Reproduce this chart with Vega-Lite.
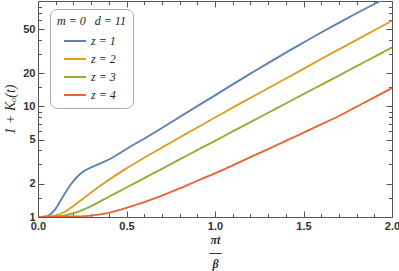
{
  "$schema": "https://vega.github.io/schema/vega-lite/v6.json",
  "width": 354,
  "height": 216,
  "autosize": "none",
  "padding": {"left": 38, "top": 1, "right": 7, "bottom": 54},
  "background": "white",
  "config": {
    "view": {"stroke": null},
    "axis": {
      "grid": false,
      "domainColor": "#555",
      "tickColor": "#555",
      "labelFont": "Liberation Sans",
      "labelFontWeight": "bold",
      "labelFontSize": 11,
      "labelColor": "#333",
      "labelOverlap": false,
      "labelFlush": false
    }
  },
  "data": {
    "values": [
      {"x": 0, "y": 1, "z": 1}, {"x": 0.02, "y": 1.0, "z": 1}, {"x": 0.04, "y": 1.01, "z": 1}, {"x": 0.065, "y": 1.042, "z": 1},
      {"x": 0.0935, "y": 1.156, "z": 1}, {"x": 0.1405, "y": 1.524, "z": 1}, {"x": 0.188, "y": 2.0, "z": 1}, {"x": 0.235, "y": 2.42, "z": 1},
      {"x": 0.26, "y": 2.6, "z": 1}, {"x": 0.29, "y": 2.76, "z": 1}, {"x": 0.33, "y": 2.94, "z": 1}, {"x": 0.38, "y": 3.2, "z": 1},
      {"x": 0.424, "y": 3.47, "z": 1}, {"x": 0.518, "y": 4.3, "z": 1},
      {"x": 0.6, "y": 5.11, "z": 1}, {"x": 0.7, "y": 6.38, "z": 1}, {"x": 0.8, "y": 8.02, "z": 1}, {"x": 0.9, "y": 10.07, "z": 1},
      {"x": 1.0, "y": 12.6, "z": 1}, {"x": 1.1, "y": 15.85, "z": 1}, {"x": 1.2, "y": 19.8, "z": 1}, {"x": 1.3, "y": 24.7, "z": 1},
      {"x": 1.4, "y": 30.7, "z": 1}, {"x": 1.5, "y": 37.9, "z": 1}, {"x": 1.6, "y": 46.7, "z": 1}, {"x": 1.7, "y": 57.1, "z": 1},
      {"x": 1.8, "y": 69.7, "z": 1}, {"x": 1.9, "y": 84.5, "z": 1}, {"x": 1.95, "y": 92.9, "z": 1},

      {"x": 0, "y": 1, "z": 2}, {"x": 0.05, "y": 1.005, "z": 2}, {"x": 0.1, "y": 1.035, "z": 2}, {"x": 0.15, "y": 1.109, "z": 2},
      {"x": 0.2, "y": 1.259, "z": 2}, {"x": 0.25, "y": 1.445, "z": 2}, {"x": 0.3, "y": 1.667, "z": 2}, {"x": 0.35, "y": 1.905, "z": 2},
      {"x": 0.4, "y": 2.168, "z": 2}, {"x": 0.5, "y": 2.754, "z": 2}, {"x": 0.6, "y": 3.436, "z": 2}, {"x": 0.7, "y": 4.246, "z": 2},
      {"x": 0.8, "y": 5.236, "z": 2}, {"x": 0.9, "y": 6.457, "z": 2}, {"x": 1.0, "y": 7.943, "z": 2}, {"x": 1.1, "y": 9.75, "z": 2},
      {"x": 1.2, "y": 11.94, "z": 2}, {"x": 1.3, "y": 14.62, "z": 2}, {"x": 1.4, "y": 17.9, "z": 2}, {"x": 1.5, "y": 21.9, "z": 2},
      {"x": 1.6, "y": 26.9, "z": 2}, {"x": 1.7, "y": 32.8, "z": 2}, {"x": 1.8, "y": 40.1, "z": 2}, {"x": 1.9, "y": 48.9, "z": 2},
      {"x": 2.0, "y": 59.6, "z": 2},

      {"x": 0, "y": 1, "z": 3}, {"x": 0.05, "y": 1.001, "z": 3}, {"x": 0.1, "y": 1.009, "z": 3}, {"x": 0.15, "y": 1.033, "z": 3},
      {"x": 0.2, "y": 1.081, "z": 3}, {"x": 0.25, "y": 1.153, "z": 3}, {"x": 0.3, "y": 1.253, "z": 3}, {"x": 0.35, "y": 1.377, "z": 3},
      {"x": 0.4, "y": 1.524, "z": 3}, {"x": 0.5, "y": 1.849, "z": 3}, {"x": 0.6, "y": 2.249, "z": 3}, {"x": 0.7, "y": 2.729, "z": 3},
      {"x": 0.8, "y": 3.319, "z": 3}, {"x": 0.9, "y": 4.027, "z": 3}, {"x": 1.0, "y": 4.887, "z": 3}, {"x": 1.1, "y": 5.943, "z": 3},
      {"x": 1.2, "y": 7.211, "z": 3}, {"x": 1.3, "y": 8.77, "z": 3}, {"x": 1.4, "y": 10.64, "z": 3}, {"x": 1.5, "y": 12.94, "z": 3},
      {"x": 1.6, "y": 15.7, "z": 3}, {"x": 1.7, "y": 19.05, "z": 3}, {"x": 1.8, "y": 23.17, "z": 3}, {"x": 1.9, "y": 28.12, "z": 3},
      {"x": 2.0, "y": 34.2, "z": 3},

      {"x": 0, "y": 1, "z": 4}, {"x": 0.1, "y": 1.001, "z": 4}, {"x": 0.2, "y": 1.009, "z": 4}, {"x": 0.3, "y": 1.03, "z": 4},
      {"x": 0.4, "y": 1.091, "z": 4}, {"x": 0.5, "y": 1.21, "z": 4}, {"x": 0.6, "y": 1.365, "z": 4}, {"x": 0.7, "y": 1.56, "z": 4},
      {"x": 0.8, "y": 1.811, "z": 4}, {"x": 0.9, "y": 2.128, "z": 4}, {"x": 1.0, "y": 2.483, "z": 4}, {"x": 1.1, "y": 2.938, "z": 4},
      {"x": 1.2, "y": 3.475, "z": 4}, {"x": 1.3, "y": 4.11, "z": 4}, {"x": 1.4, "y": 4.875, "z": 4}, {"x": 1.5, "y": 5.794, "z": 4},
      {"x": 1.6, "y": 6.887, "z": 4}, {"x": 1.7, "y": 8.2, "z": 4}, {"x": 1.8, "y": 9.95, "z": 4}, {"x": 1.9, "y": 12.08, "z": 4},
      {"x": 2.0, "y": 14.69, "z": 4}
    ]
  },
  "layer": [
    {
      "mark": {"type": "line", "strokeWidth": 1.9, "clip": true, "interpolate": "monotone"},
      "encoding": {
        "x": {
          "field": "x", "type": "quantitative",
          "scale": {"domain": [0, 2], "nice": false, "zero": false},
          "axis": {
            "orient": "bottom",
            "values": [0, 0.1, 0.2, 0.3, 0.4, 0.5, 0.6, 0.7, 0.8, 0.9, 1, 1.1, 1.2, 1.3, 1.4, 1.5, 1.6, 1.7, 1.8, 1.9, 2],
            "labelExpr": "abs(datum.value*2 - round(datum.value*2)) < 1e-6 ? format(datum.value, '.1f') : ''",
            "tickSize": {"condition": {"test": "abs(datum.value*2 - round(datum.value*2)) < 1e-6", "value": -6}, "value": -3.5},
            "labelPadding": 9,
            "title": ["πt", "—", "β"],
            "titleFont": "Liberation Serif",
            "titleFontStyle": "italic",
            "titleFontWeight": "bold",
            "titleFontSize": 12,
            "titleLineHeight": 12,
            "titleColor": "#333",
            "titlePadding": 1
          }
        },
        "y": {
          "field": "y", "type": "quantitative",
          "scale": {"type": "log", "domain": [1, 90], "nice": false},
          "axis": {
            "orient": "left",
            "values": [1, 1.5, 2, 3, 4, 5, 6, 7, 8, 9, 10, 15, 20, 30, 40, 50, 60, 70, 80],
            "labelExpr": "indexof([1,2,5,10,20,50], datum.value) >= 0 ? '' + datum.value : ''",
            "tickSize": {"condition": {"test": "indexof([1,2,5,10,20,50], datum.value) >= 0", "value": -6}, "value": -3.5},
            "labelPadding": 9,
            "title": "1 + Kₒ(t)",
            "titleFont": "Liberation Serif",
            "titleFontStyle": "italic",
            "titleFontWeight": "normal",
            "titleFontSize": 14,
            "titleColor": "#333",
            "titlePadding": 5
          }
        },
        "color": {
          "field": "z", "type": "nominal",
          "scale": {"domain": [1, 2, 3, 4], "range": ["#5E81B5", "#E19C24", "#8FB032", "#EB6235"]},
          "legend": {
            "orient": "none",
            "legendX": 12,
            "legendY": 8,
            "title": "m = 0\u00a0\u00a0\u00a0d = 11",
            "titleFont": "Liberation Serif",
            "titleFontStyle": "italic",
            "titleFontWeight": "normal",
            "titleFontSize": 12,
            "titleColor": "#222",
            "titlePadding": 1,
            "labelExpr": "'z = ' + datum.label",
            "labelFont": "Liberation Serif",
            "labelFontStyle": "italic",
            "labelFontSize": 12,
            "labelColor": "#222",
            "labelOffset": 4,
            "symbolType": "stroke",
            "symbolSize": 484,
            "symbolStrokeWidth": 2,
            "symbolOffset": 6,
            "rowPadding": -4,
            "padding": 7,
            "fillColor": "white",
            "strokeColor": "#aaa",
            "cornerRadius": 7
          }
        }
      }
    },
    {
      "mark": {"type": "line", "opacity": 0},
      "encoding": {
        "x": {
          "field": "x", "type": "quantitative",
          "scale": {"domain": [0, 2], "nice": false, "zero": false},
          "axis": {
            "orient": "top",
            "values": [0, 0.1, 0.2, 0.3, 0.4, 0.5, 0.6, 0.7, 0.8, 0.9, 1, 1.1, 1.2, 1.3, 1.4, 1.5, 1.6, 1.7, 1.8, 1.9, 2],
            "labels": false,
            "title": null,
            "tickSize": {"condition": {"test": "abs(datum.value*2 - round(datum.value*2)) < 1e-6", "value": -6}, "value": -3.5}
          }
        },
        "y": {
          "field": "y", "type": "quantitative",
          "scale": {"type": "log", "domain": [1, 90], "nice": false},
          "axis": {
            "orient": "right",
            "values": [1, 1.5, 2, 3, 4, 5, 6, 7, 8, 9, 10, 15, 20, 30, 40, 50, 60, 70, 80],
            "labels": false,
            "title": null,
            "tickSize": {"condition": {"test": "indexof([1,2,5,10,20,50], datum.value) >= 0", "value": -6}, "value": -3.5}
          }
        },
        "detail": {"field": "z", "type": "nominal"}
      }
    }
  ],
  "resolve": {"axis": {"x": "independent", "y": "independent"}}
}
